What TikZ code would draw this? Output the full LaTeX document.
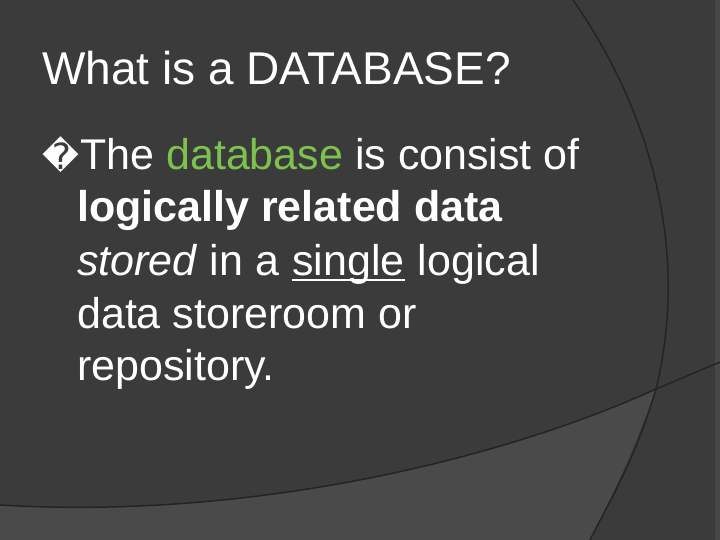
\documentclass[tikz,border=0pt]{standalone}
\usepackage{fontspec}
\setmainfont{Liberation Sans}
\newfontfamily\djv{DejaVu Sans}
\definecolor{bgc}{HTML}{3B3B3B}
\definecolor{lowc}{HTML}{4A4A4A}
\definecolor{linec}{HTML}{242424}
\definecolor{grn}{HTML}{7DC24F}
\newcommand{\ulthick}[1]{\tikz[baseline=(u.base)]{\node[inner sep=0pt] (u) {#1};\draw[white,line width=2.2pt] ([yshift=-5pt]u.base west) -- ([yshift=-5pt]u.base east);}}
\begin{document}
\begin{tikzpicture}[x=1pt,y=-1pt,
  body/.style={anchor=base west,inner sep=0pt,text=white,font=\fontsize{43}{50}\selectfont}]
\useasboundingbox (0,0) rectangle (720,540);
\fill[bgc] (0,0) rectangle (720,540);
\fill[lowc] (0,505) .. controls (250,520) and (500,460) .. (656,389) .. controls (630,460) and (610,500) .. (590,540) -- (0,540) -- cycle;
\fill[lowc!90!bgc] (715,0) rectangle (720,540);
\draw[linec,line width=1.5pt] (573,0) .. controls (650,110) and (690,250) .. (656,389) .. controls (635,460) and (610,500) .. (590,540);
\draw[linec,line width=1.5pt] (0,505) .. controls (250,520) and (500,460) .. (656,389) -- (720,362);
\node[body,font=\fontsize{46}{54}\selectfont] (title) at (42,85) {What is a DATABASE?};
\node[body] (l1) at (42,170) {\makebox[38pt][l]{\djv\fontsize{36}{40}\selectfont �}The \textcolor{grn}{database} is consist of};
\node[body] (l2) at (77,222) {\textbf{logically related data}};
\node[body] (l3) at (77,275) {\textit{stored} in a \ulthick{single} logical};
\node[body] (l4) at (77,328) {data storeroom or};
\node[body] (l5) at (77,380) {repository.};
\end{tikzpicture}
\end{document}
